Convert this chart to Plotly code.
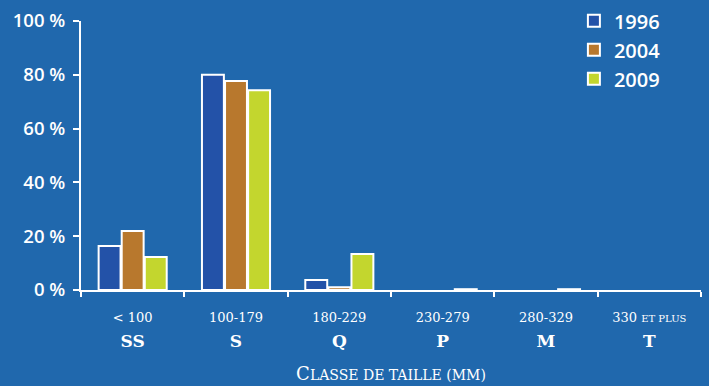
import plotly.graph_objects as go

codes = ["SS", "S", "Q", "P", "M", "T"]
ranges = ["&lt; 100", "100-179", "180-229", "230-279", "280-329", "330 <span style='font-size:10px'>ET PLUS</span>"]
years = ["1996", "2004", "2009"]
v1996 = [16.4, 80.0, 3.7, None, None, None]
v2004 = [21.9, 77.7, 1.0, None, None, None]
v2009 = [12.3, 74.3, 13.4, 0.3, 0.3, None]
colors = ["#2352a8", "#b8782d", "#c3d62e"]
yticks = [0, 20, 40, 60, 80, 100]

ticktext = [f"<span style='font-size:13px'>{r}</span><br><b><span style='font-size:17px'>{c}</span></b>" for r, c in zip(ranges, codes)]

fig = go.Figure()
for name, vals, col in zip(years, [v1996, v2004, v2009], colors):
    fig.add_trace(go.Bar(x=codes, y=vals, name=name, marker=dict(color=col, line=dict(color="white", width=2))))

fig.update_layout(
    width=709, height=386,
    margin=dict(l=81, r=8, t=21, b=96, autoexpand=False),
    paper_bgcolor="#2068ad", plot_bgcolor="#2068ad",
    barmode="group", bargap=0.33, bargroupgap=0.05,
    font=dict(family="Open Sans", color="white"),
    legend=dict(x=0.795, y=1.073, xanchor="left", yanchor="top",
                font=dict(size=20, family="Open Sans", color="white", weight=600),
                bgcolor="rgba(0,0,0,0)", tracegroupgap=0, itemwidth=30),
    showlegend=True,
)
fig.update_yaxes(range=[0, 100], tickvals=yticks, ticktext=[f"{t} %" for t in yticks],
                 showgrid=False, zeroline=False, showline=True, linecolor="white", linewidth=2,
                 ticks="outside", tickcolor="white", tickwidth=2, ticklen=6, ticklabelstandoff=4,
                 automargin=False,
                 tickfont=dict(size=18.5, family="Open Sans", color="white", weight=600))
fig.update_xaxes(tickmode="array", tickvals=codes, ticktext=ticktext, tickson="boundaries",
                 showgrid=False, showline=True, linecolor="white", linewidth=2,
                 ticks="outside", tickcolor="white", tickwidth=2, ticklen=5, ticklabelstandoff=7,
                 automargin=False,
                 tickfont=dict(size=19, family="DejaVu Serif", color="white"),
                 title=dict(text="C<span style='font-size:14px'>LASSE DE TAILLE (MM)</span>",
                            font=dict(size=18, family="DejaVu Serif", color="white"), standoff=18))
fig.write_html("out.html")
